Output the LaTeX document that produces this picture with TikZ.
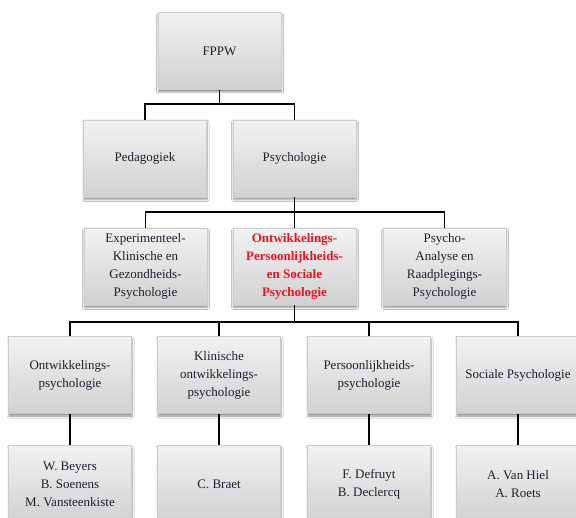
\documentclass[tikz,border=0pt]{standalone}
\usepackage{fontspec}
\setmainfont{Liberation Serif}
\usetikzlibrary{shadows.blur}
\definecolor{boxtext}{RGB}{30,30,48}
\definecolor{hilite}{RGB}{235,20,30}
\tikzset{
  x=1pt, y=-1pt,
  unit/.style={rectangle, minimum width=123pt, minimum height=77pt, inner sep=2pt,
    align=center, text=boxtext, font=\fontsize{13}{18}\selectfont,
    top color=gray!10, bottom color=gray!36, draw=gray!40, line width=0.4pt,
    blur shadow={shadow xshift=0.5pt, shadow yshift=-2.5pt, shadow blur radius=2pt, shadow opacity=45}},
  focus/.style={text=hilite, font=\fontsize{13}{18}\selectfont\bfseries},
  conn/.style={draw=black, line width=1.6pt}
}
\begin{document}
\begin{tikzpicture}
\useasboundingbox (0,0) rectangle (576,518);
\clip (0,0) rectangle (576,518);
\fill[white] (0,0) rectangle (576,518);

% faculty and departments
\node[unit] (fppw) at (219.5,51) {FPPW};
\node[unit] (ped) at (145,158.5) {Pedagogiek};
\node[unit] (psy) at (294.5,158.5) {Psychologie};

% research groups
\node[unit] (exp) at (145.5,266.5) {Experimenteel-\\Klinische en\\Gezondheids-\\Psychologie};
\node[unit, focus] (ops) at (294.5,266.5) {Ontwikkelings-\\Persoonlijkheids-\\en Sociale\\Psychologie};
\node[unit] (pa) at (444.5,266.5) {Psycho-\\Analyse en\\Raadplegings-\\Psychologie};

% subdivisions
\node[unit] (ont) at (70,375) {Ontwikkelings-\\psychologie};
\node[unit] (kli) at (219,375) {Klinische\\ontwikkelings-\\psychologie};
\node[unit] (per) at (369,375) {Persoonlijkheids-\\psychologie};
\node[unit] (soc) at (518,375) {Sociale Psychologie};

% staff
\node[unit] (pOnt) at (70,484) {W. Beyers\\B. Soenens\\M. Vansteenkiste};
\node[unit] (pKli) at (219,484) {C. Braet};
\node[unit] (pPer) at (369,484) {F. Defruyt\\B. Declercq};
\node[unit] (pSoc) at (518,484) {A. Van Hiel\\A. Roets};

% bus levels
\coordinate (bus1) at (219.5,104);
\coordinate (bus2) at (294.5,212);
\coordinate (bus3) at (294.5,322);

% connectors
\draw[conn] (fppw.south) -- (fppw.south |- bus1);
\draw[conn] (ped.north) |- (bus1) -| (psy.north);

\draw[conn] (psy.south) -- (ops.north);
\draw[conn] (exp.north) |- (bus2) -| (pa.north);

\draw[conn] (ops.south) -- (ops.south |- bus3);
\draw[conn] (ont.north) |- (bus3) -| (soc.north);
\draw[conn] (kli.north) -- (kli.north |- bus3);
\draw[conn] (per.north) -- (per.north |- bus3);

\draw[conn] (ont.south) -- (pOnt.north);
\draw[conn] (kli.south) -- (pKli.north);
\draw[conn] (per.south) -- (pPer.north);
\draw[conn] (soc.south) -- (pSoc.north);
\end{tikzpicture}
\end{document}
